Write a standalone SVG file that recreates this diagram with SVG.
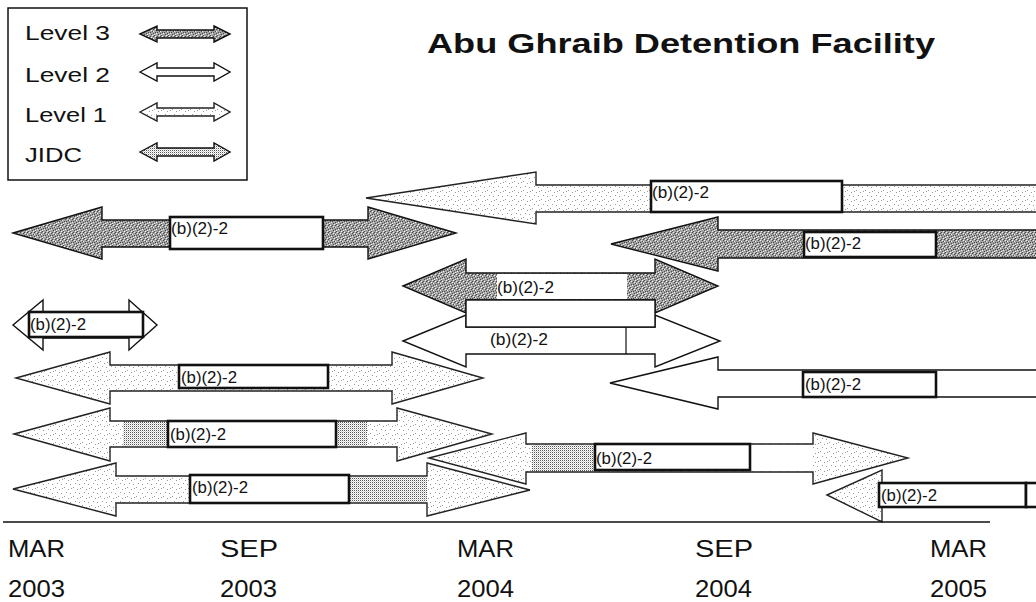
<svg xmlns="http://www.w3.org/2000/svg" width="1036" height="602" viewBox="0 0 1036 602">
<defs>
<pattern id="p3" width="7" height="7" patternUnits="userSpaceOnUse">
<rect width="7" height="7" fill="#a2a2a2"/>
<g fill="#4a4a4a" shape-rendering="crispEdges">
<rect x="0" y="0" width="1" height="1"/><rect x="3" y="1" width="1" height="1"/><rect x="5" y="3" width="1" height="1"/><rect x="1" y="4" width="1" height="1"/><rect x="4" y="6" width="1" height="1"/><rect x="6" y="5" width="1" height="1"/><rect x="2" y="2" width="1" height="1"/><rect x="6" y="1" width="1" height="1"/><rect x="3" y="4" width="1" height="1"/></g>
<g fill="#f2f2f2" shape-rendering="crispEdges">
<rect x="2" y="5" width="1" height="1"/><rect x="5" y="0" width="1" height="1"/><rect x="4" y="2" width="1" height="1"/><rect x="0" y="6" width="1" height="1"/><rect x="1" y="1" width="1" height="1"/><rect x="6" y="3" width="1" height="1"/></g>
</pattern>
<pattern id="p1" width="9" height="9" patternUnits="userSpaceOnUse">
<rect width="9" height="9" fill="#ffffff"/>
<g fill="#999" shape-rendering="crispEdges">
<rect x="1" y="1" width="1" height="1"/><rect x="5" y="3" width="1" height="1"/><rect x="3" y="6" width="1" height="1"/><rect x="7" y="7" width="1" height="1"/><rect x="8" y="2" width="1" height="1"/></g>
</pattern>
<pattern id="pj" width="2" height="2" patternUnits="userSpaceOnUse">
<rect width="2" height="2" fill="#ffffff"/>
<rect x="0" y="0" width="1" height="1" fill="#555" shape-rendering="crispEdges"/>
<rect x="1" y="1" width="1" height="1" fill="#d0d0d0" shape-rendering="crispEdges"/>
</pattern>
</defs>
<style>
.t{font-family:"Liberation Sans",Arial,sans-serif;fill:#111}
.lbl{font-size:17px}
.ax{font-size:24px}
.lg{font-size:20px}
.a3{fill:url(#p3);stroke:#111;stroke-width:1.4;stroke-linejoin:miter}
.a2{fill:#fff;stroke:#111;stroke-width:1.4}
.a1{fill:url(#p1);stroke:#222;stroke-width:1.4}
.aj{fill:url(#pj);stroke:#111;stroke-width:1.4}
.box{fill:#fff;stroke:#111;stroke-width:2.6}
.den{fill:url(#pj);stroke:none}
</style>
<rect width="1036" height="602" fill="#fff"/>

<g id="legend">
<rect x="8" y="8" width="239" height="172" fill="#fff" stroke="#111" stroke-width="1.5"/>
<text class="t lg" x="25" y="40" textLength="85" lengthAdjust="spacingAndGlyphs">Level 3</text>
<text class="t lg" x="25" y="82" textLength="85" lengthAdjust="spacingAndGlyphs">Level 2</text>
<text class="t lg" x="25" y="122" textLength="82" lengthAdjust="spacingAndGlyphs">Level 1</text>
<text class="t lg" x="25" y="162" textLength="57" lengthAdjust="spacingAndGlyphs">JIDC</text>
<polygon class="a3" points="140,34 157,26 157,30 214,30 214,26 230,34 214,42 214,38 157,38 157,42"/>
<polygon class="a2" points="140,72 157,63 157,68 214,68 214,63 230,72 214,81 214,76 157,76 157,81"/>
<polygon class="a1" points="140,112 157,103 157,108 214,108 214,103 230,112 214,121 214,116 157,116 157,121"/>
<polygon class="aj" points="140,152 157,143 157,148 214,148 214,143 230,152 214,161 214,156 157,156 157,161"/>
</g>

<g id="title">
<text class="t" x="427" y="53" font-size="28" font-weight="bold" textLength="508" lengthAdjust="spacingAndGlyphs">Abu Ghraib Detention Facility</text>
</g>

<g id="arrowA">
<polygon class="a1" points="366,198 536,172 536,185 1040,185 1040,212 536,212 536,224"/>
<rect class="box" x="651" y="181" width="191" height="31"/>
<text class="t lbl" x="652" y="198" textLength="57" lengthAdjust="spacingAndGlyphs">(b)(2)-2</text>
</g>

<g id="arrowB">
<polygon class="a3" points="13,233 102,207 102,220 368,220 368,207 456,233 368,259 368,247 102,247 102,259"/>
<rect class="box" x="170" y="217" width="153" height="32"/>
<text class="t lbl" x="171" y="234" textLength="57" lengthAdjust="spacingAndGlyphs">(b)(2)-2</text>
</g>

<g id="arrowC">
<polygon class="a3" points="611,244 718,217 718,230 1040,230 1040,258 718,258 718,271"/>
<rect class="box" x="804" y="232" width="132" height="25"/>
<text class="t lbl" x="805" y="249" textLength="56" lengthAdjust="spacingAndGlyphs">(b)(2)-2</text>
</g>

<g id="arrowD">
<polygon class="a3" points="403,286 466,259 466,273 655,273 655,259 718,286 655,313 655,300 466,300 466,313"/>
<rect x="497" y="274" width="130" height="25" fill="#fff"/>
<text class="t lbl" x="497" y="293" textLength="57" lengthAdjust="spacingAndGlyphs">(b)(2)-2</text>
</g>

<g id="arrowE">
<polygon class="a2" points="403,341 466,315 466,327 655,327 655,315 720,341 655,367 655,354 466,354 466,367"/>
<rect x="466" y="300" width="189" height="27" fill="#fff" stroke="#111" stroke-width="1.4"/>
<line x1="626" y1="327" x2="626" y2="354" stroke="#111" stroke-width="1.2"/>
<text class="t lbl" x="490" y="345" textLength="58" lengthAdjust="spacingAndGlyphs">(b)(2)-2</text>
</g>

<g id="arrowF">
<polygon class="a2" points="13,325 43,300 43,312 129,312 129,300 157,325 129,350 129,338 43,338 43,350"/>
<rect class="box" x="29" y="312" width="114" height="25"/>
<text class="t lbl" x="30" y="330" textLength="56" lengthAdjust="spacingAndGlyphs">(b)(2)-2</text>
</g>

<g id="arrowG">
<polygon class="a1" points="16,378 110,352 110,365 392,365 392,352 483,378 392,404 392,391 110,391 110,404"/>
<rect class="box" x="179" y="365" width="149" height="23"/>
<text class="t lbl" x="181" y="383" textLength="56" lengthAdjust="spacingAndGlyphs">(b)(2)-2</text>
</g>

<g id="arrowH">
<polygon class="a1" points="14,434 110,408 110,421 397,421 397,408 492,434 397,461 397,447 110,447 110,461"/>
<rect class="den" x="123" y="422" width="45" height="24"/>
<rect class="den" x="336" y="422" width="31" height="24"/>
<rect class="box" x="168" y="421" width="168" height="26"/>
<text class="t lbl" x="170" y="440" textLength="56" lengthAdjust="spacingAndGlyphs">(b)(2)-2</text>
</g>

<g id="arrowI">
<polygon class="a1" points="13,489 116,463 116,476 427,476 427,463 530,490 427,516 427,503 116,503 116,516"/>
<rect class="den" x="349" y="477" width="78" height="25"/>
<rect class="box" x="190" y="475" width="159" height="28"/>
<text class="t lbl" x="192" y="493" textLength="56" lengthAdjust="spacingAndGlyphs">(b)(2)-2</text>
</g>

<g id="arrowJ">
<polygon class="a1" points="429,458 526,433 526,444 813,444 813,433 908,458 813,484 813,472 526,472 526,484"/>
<rect x="595" y="445" width="218" height="26" fill="#fff"/>
<rect class="den" x="532" y="445" width="63" height="26"/>
<rect class="box" x="595" y="444" width="155" height="26"/>
<text class="t lbl" x="596" y="464" textLength="56" lengthAdjust="spacingAndGlyphs">(b)(2)-2</text>
</g>

<g id="arrowK">
<polygon class="a1" points="827,495 882,470 882,484 1040,484 1040,507 882,507 882,522"/>
<rect class="box" x="879" y="483" width="147" height="24"/>
<rect class="box" x="1026" y="483" width="20" height="24"/>
<text class="t lbl" x="881" y="501" textLength="56" lengthAdjust="spacingAndGlyphs">(b)(2)-2</text>
</g>

<g id="arrowL">
<polygon class="a2" points="610,383 718,357 718,370 1040,370 1040,397 718,397 718,409"/>
<rect class="box" x="803" y="372" width="133" height="25"/>
<text class="t lbl" x="805" y="390" textLength="56" lengthAdjust="spacingAndGlyphs">(b)(2)-2</text>
</g>

<g id="connectors">
<line x1="3" y1="522" x2="990" y2="522" stroke="#111" stroke-width="1.6"/>
</g>

<g id="axis-labels">
<text class="t ax" x="8" y="557" textLength="57" lengthAdjust="spacingAndGlyphs">MAR</text>
<text class="t ax" x="8" y="597" textLength="57" lengthAdjust="spacingAndGlyphs">2003</text>
<text class="t ax" x="220" y="557" textLength="58" lengthAdjust="spacingAndGlyphs">SEP</text>
<text class="t ax" x="220" y="597" textLength="57" lengthAdjust="spacingAndGlyphs">2003</text>
<text class="t ax" x="457" y="557" textLength="57" lengthAdjust="spacingAndGlyphs">MAR</text>
<text class="t ax" x="457" y="597" textLength="57" lengthAdjust="spacingAndGlyphs">2004</text>
<text class="t ax" x="695" y="557" textLength="58" lengthAdjust="spacingAndGlyphs">SEP</text>
<text class="t ax" x="695" y="597" textLength="57" lengthAdjust="spacingAndGlyphs">2004</text>
<text class="t ax" x="930" y="557" textLength="57" lengthAdjust="spacingAndGlyphs">MAR</text>
<text class="t ax" x="930" y="597" textLength="57" lengthAdjust="spacingAndGlyphs">2005</text>
</g>
</svg>
